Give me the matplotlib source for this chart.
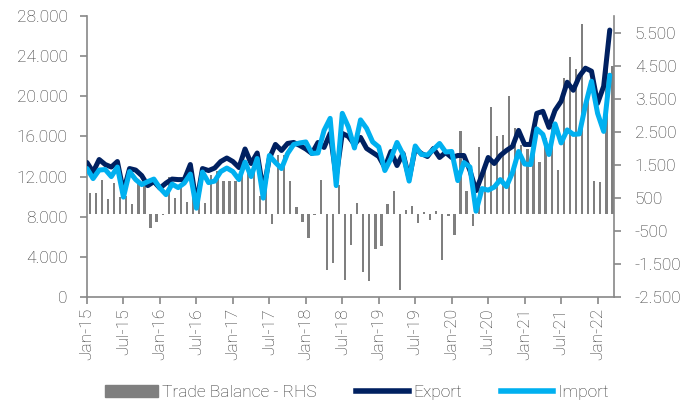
import numpy as np
import matplotlib
matplotlib.use("Agg")
import matplotlib.pyplot as plt
from matplotlib.ticker import FuncFormatter
from matplotlib.patches import Patch
from matplotlib.lines import Line2D

plt.rcParams["font.family"] = ["Roboto", "DejaVu Sans"]

# monthly data, Jan-15 .. Mar-22
export = [13400, 12450, 13700, 13200, 12950, 13500, 10500, 12800, 12650, 12100,
          11100, 11500, 10850, 11350, 11750, 11700, 11700, 13200, 9300, 12800,
          12600, 12850, 13500, 13850, 13500, 12900, 14750, 13300, 14350, 10600,
          13800, 15200, 14600, 15300, 15400, 15100, 14750, 14300, 15400, 14900,
          16300, 12000, 16300, 16000, 15200, 15900, 14800, 14400, 14000, 12900,
          14500, 13100, 14300, 11800, 14800, 14300, 14000, 14800, 13900, 14400,
          13900, 14100, 14100, 12600, 10600, 12200, 13900, 13300, 14100, 14600,
          15000, 16600, 15200, 15200, 18300, 18500, 16900, 18600, 19500, 21400,
          20600, 22000, 22800, 22500, 19300, 21000, 26600]
imports = [12800, 11800, 12650, 12700, 12000, 12950, 9950, 12500, 11700, 11200,
           11500, 11750, 10850, 10200, 11250, 10900, 11350, 12250, 8850, 12450,
           11400, 11550, 12500, 12850, 12500, 11700, 13450, 12000, 13800, 9850,
           14100, 13400, 12800, 14300, 15200, 15350, 15450, 14300, 14350, 16600,
           17800, 11100, 18300, 16950, 14850, 17650, 16800, 15450, 14950, 12600,
           13800, 15400, 14200, 11550, 15050, 14200, 14150, 14700, 15300, 14450,
           14500, 11600, 13400, 12950, 8550, 10800, 10650, 10950, 11700, 11000,
           12400, 14500, 13250, 13200, 16750, 16200, 14200, 17250, 15350, 16650,
           16200, 16250, 19100, 21500, 18300, 16500, 22100]
balance = [640, 660, 1040, 475, 940, 536, 550, 313, 940, 890,
           -425, -230, -20, 1120, 505, 820, 364, 940, 450, 354,
           1200, 1300, 1000, 1000, 1000, 1200, 1300, 1300, 556, 750,
           -293, 1800, 1800, 1020, 212, -243, -728, -10, 1040, -1690,
           -1470, 900, -1980, -940, 344, -1730, -2030, -1050, -970, 323,
           700, -2300, 121, 263, -268, 81, -162, 111, -1375, -60,
           -627, 2520, 718, -364, 2030, 1400, 3250, 2365, 2396, 3590,
           2600, 2110, 1970, 2000, 1575, 2300, 2700, 1330, 4135, 4770,
           4385, 5760, 3700, 1016, 965, 4500, 4500]
tick_labels = ["Jan-15", "Jul-15", "Jan-16", "Jul-16", "Jan-17", "Jul-17", "Jan-18",
               "Jul-18", "Jan-19", "Jul-19", "Jan-20", "Jul-20", "Jan-21", "Jul-21",
               "Jan-22"]

navy = "#002060"
light = "#00b0f0"
grey = "#7f7f7f"
axis_c = "#888888"
text_c = "#333333"
fs = 12.5

x = np.arange(len(export))

fig = plt.figure(figsize=(6.93, 4.05), dpi=100)
ax = fig.add_axes([87 / 693, 1 - 297 / 405, (614 - 87) / 693, (297 - 16) / 405])
ax2 = ax.twinx()

ax2.bar(x + 0.45, balance, width=0.38, color=grey, zorder=1)
ax2.set_ylim(-2500, 6000)
ax2.set_yticks(np.arange(-2500, 6000, 1000))

ax.plot(x, export, color=navy, lw=3.6, solid_capstyle="round", solid_joinstyle="round", zorder=3)
ax.plot(x, imports, color=light, lw=3.6, solid_capstyle="round", solid_joinstyle="round", zorder=4)
ax.set_ylim(0, 28000)
ax.set_yticks(np.arange(0, 28001, 4000))
ax.set_xlim(0, 86.7)
ax.set_xticks(np.arange(0, len(tick_labels) * 6, 6))
ax.set_xticklabels(tick_labels, rotation=90)

ax.set_zorder(ax2.get_zorder() + 1)
ax.patch.set_visible(False)

fmt = FuncFormatter(lambda v, p: f"{int(round(v)):,}".replace(",", "."))
ax.yaxis.set_major_formatter(fmt)
ax2.yaxis.set_major_formatter(fmt)

for a in (ax, ax2):
    a.spines["top"].set_visible(False)
    for s in a.spines.values():
        s.set_color(axis_c)
        s.set_linewidth(1.2)
    a.tick_params(colors=axis_c, labelcolor=text_c, labelsize=fs, width=1.2, length=5)
ax.spines["right"].set_visible(False)
ax2.spines["left"].set_visible(False)
ax2.spines["bottom"].set_visible(False)
ax.tick_params(axis="y", pad=9)
ax.tick_params(axis="x", pad=3)
ax2.tick_params(axis="y", pad=10)
for t in ax.get_yticklabels() + ax2.get_yticklabels() + ax.get_xticklabels():
    t.set_fontweight("light")

handles = [Patch(color=grey), Line2D([], [], color=navy, lw=4), Line2D([], [], color=light, lw=4)]
leg = fig.legend(handles, ["Trade Balance - RHS", "Export", "Import"], loc="center",
                 bbox_to_anchor=(0.515, 0.03), ncol=3, frameon=False, fontsize=fs,
                 handlelength=3.0, handletextpad=0.25, columnspacing=2.3)
for t in leg.get_texts():
    t.set_color(text_c)
    t.set_fontweight("light")

fig.savefig("out.png", dpi=100)
